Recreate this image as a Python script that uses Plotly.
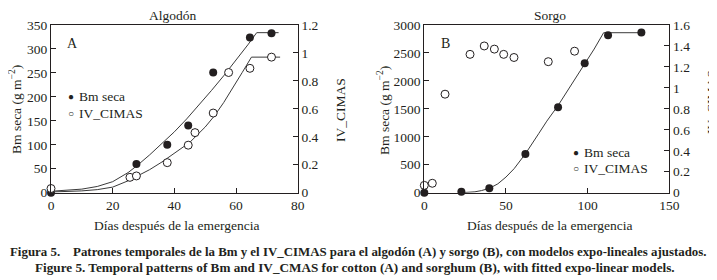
import plotly.graph_objects as go

# page body has an 8 px margin, so the figure is drawn 8 px in from the top-left
OFF = 8
W, H = 717 - OFF, 280 - OFF

# ---------------- Panel A: Algodón ----------------
a_days_bm = [0, 27.7, 37.7, 44.5, 52.6, 64.5, 71.5]
a_bm = [0, 60, 100, 140, 251, 324, 333]
a_days_iv = [0, 25.6, 27.7, 37.7, 44.5, 46.7, 52.6, 57.6, 64.5, 71.5]
a_iv = [0.03, 0.11, 0.12, 0.215, 0.34, 0.43, 0.57, 0.86, 0.89, 0.97]
# fitted expo-linear curves
a_fit_bm_days = [0, 5, 10, 15, 20, 25, 28, 32, 36, 40, 44, 48, 52, 56, 60, 64, 66.7, 73.8]
a_fit_bm = [3, 4.5, 7.5, 13, 23, 42, 57, 79, 102, 127, 154, 183, 213, 244, 276, 310, 334, 334]
a_fit_iv_days = [0, 5, 10, 15, 20, 25, 28, 32, 36, 40, 45, 50, 53, 56, 59, 62, 65, 74.3]
a_fit_iv = [0.005, 0.008, 0.013, 0.022, 0.04, 0.085, 0.118, 0.165, 0.22, 0.28, 0.36, 0.47, 0.55, 0.645,
            0.75, 0.86, 0.97, 0.97]

# ---------------- Panel B: Sorgo ----------------
b_days_bm = [0, 22.7, 39.8, 61.9, 81.9, 98.2, 112.5, 132.9]
b_bm = [0, 18, 78, 692, 1527, 2314, 2815, 2868]
b_days_iv = [0, 4.9, 12.7, 28, 36.7, 42.9, 48.6, 54.9, 75.9, 92]
b_iv = [0.07, 0.09, 0.94, 1.32, 1.40, 1.37, 1.32, 1.29, 1.25, 1.35]
b_fit_days = [22.7, 27, 31, 35, 40, 45, 50, 55, 62, 70, 75, 81.9, 90, 98.2, 104, 109.8, 133]
b_fit_bm = [0, 4, 16, 38, 80, 158, 280, 430, 700, 1055, 1280, 1560, 1925, 2300, 2570, 2862, 2862]

a_xticks = [0, 20, 40, 60, 80]
a_yticks = [0, 50, 100, 150, 200, 250, 300, 350]
a_y2ticks = [0, 0.2, 0.4, 0.6, 0.8, 1, 1.2]
b_xticks = [0, 50, 100, 150]
b_yticks = [0, 500, 1000, 1500, 2000, 2500, 3000]
b_y2ticks = [0, 0.2, 0.4, 0.6, 0.8, 1, 1.2, 1.4, 1.6]

FONT = "Liberation Serif"
INK = "#231f20"
LINE = "#3a3a3a"


def px(x):
    return (x - OFF) / W


def py(y):
    return 1 - (y - OFF) / H


fig = go.Figure()

filled = dict(symbol="circle", size=8, color=INK, line=dict(width=0))
hollow = dict(symbol="circle", size=8, color="white", line=dict(color=INK, width=1))
curve = dict(color=LINE, width=1)

# Panel A
fig.add_trace(go.Scatter(x=a_fit_bm_days, y=a_fit_bm, mode="lines", line=curve,
                         xaxis="x", yaxis="y", showlegend=False))
fig.add_trace(go.Scatter(x=a_fit_iv_days, y=a_fit_iv, mode="lines", line=curve,
                         xaxis="x", yaxis="y2", showlegend=False))
fig.add_trace(go.Scatter(x=a_days_iv, y=a_iv, mode="markers", marker=hollow,
                         xaxis="x", yaxis="y2", showlegend=False, cliponaxis=False))
fig.add_trace(go.Scatter(x=a_days_bm, y=a_bm, mode="markers", marker=filled,
                         xaxis="x", yaxis="y", showlegend=False, cliponaxis=False))

# Panel B
fig.add_trace(go.Scatter(x=b_fit_days, y=b_fit_bm, mode="lines", line=curve,
                         xaxis="x2", yaxis="y3", showlegend=False))
fig.add_trace(go.Scatter(x=b_days_iv, y=b_iv, mode="markers", marker=hollow,
                         xaxis="x2", yaxis="y4", showlegend=False, cliponaxis=False))
fig.add_trace(go.Scatter(x=b_days_bm, y=b_bm, mode="markers", marker=filled,
                         xaxis="x2", yaxis="y3", showlegend=False, cliponaxis=False))

ax_common = dict(showline=True, linecolor=INK, linewidth=1, ticks="inside", ticklen=5, tickwidth=1,
                 tickcolor=INK, showgrid=False, zeroline=False, automargin=False,
                 tickfont=dict(family=FONT, size=13.5, color=INK))

ydom = [py(192.7), py(25)]

fig.update_layout(
    width=W, height=H, margin=dict(l=0, r=0, t=0, b=0, autoexpand=False),
    paper_bgcolor="white", plot_bgcolor="white",
    showlegend=False,
    xaxis=dict(domain=[px(51), px(297.7)], range=[0, 80], tickvals=a_xticks, anchor="y", mirror=True, **ax_common),
    yaxis=dict(domain=ydom, range=[0, 350], tickvals=a_yticks, anchor="x", **ax_common),
    yaxis2=dict(range=[0, 1.2], tickvals=a_y2ticks, overlaying="y", side="right", anchor="x", **ax_common),
    xaxis2=dict(domain=[px(424.3), px(669.3)], range=[0, 150], tickvals=b_xticks, anchor="y3", mirror=True, **ax_common),
    yaxis3=dict(domain=ydom, range=[0, 3000], tickvals=b_yticks, anchor="x2", **ax_common),
    yaxis4=dict(range=[0, 1.6], tickvals=b_y2ticks, overlaying="y3", side="right", anchor="x2", **ax_common),
)

ann = []


def text(x, y, s, size=13.5, angle=0, xanchor="center", bold=False):
    ann.append(dict(x=px(x), y=py(y), xref="paper", yref="paper", text=("<b>%s</b>" % s) if bold else s,
                    showarrow=False, textangle=angle, xanchor=xanchor, yanchor="middle",
                    font=dict(family=FONT, size=size, color=INK)))


# titles
text(173, 15, "Algodón")
text(550, 15, "Sorgo")
# x titles
text(176, 225, "Días después de la emergencia")
text(549, 225, "Días después de la emergencia")
# y titles
text(15, 110, "Bm seca (g m<sup>−2</sup>)", angle=-90)
text(340, 110, "IV_CIMAS", angle=-90)
text(383, 110, "Bm seca (g m<sup>−2</sup>)", angle=-90)
text(711, 102, "IV_CIMAS", angle=-90)
# panel letters
text(72, 43, "A", size=14)
text(445, 43, "B", size=14)
# legends
text(71, 97, "●", size=10)
text(77, 97, "Bm seca", xanchor="left")
text(71, 114, "○", size=10)
text(77, 114, "IV_CIMAS", xanchor="left")
text(576, 152, "●", size=10)
text(582, 152, "Bm seca", xanchor="left")
text(576, 168, "○", size=10)
text(582, 168, "IV_CIMAS", xanchor="left")
# caption
text(358, 252, "Figura 5.\u00a0\u00a0\u00a0\u00a0Patrones temporales de la Bm y el IV_CIMAS para el algodón (A) y sorgo (B), con modelos expo-lineales ajustados.", size=12.9, bold=True)
text(355, 267, "Figure 5. Temporal patterns of Bm and IV_CMAS for cotton (A) and sorghum (B), with fitted expo-linear models.", size=13.2, bold=True)

fig.update_layout(annotations=ann)

fig.write_html("out.html")
